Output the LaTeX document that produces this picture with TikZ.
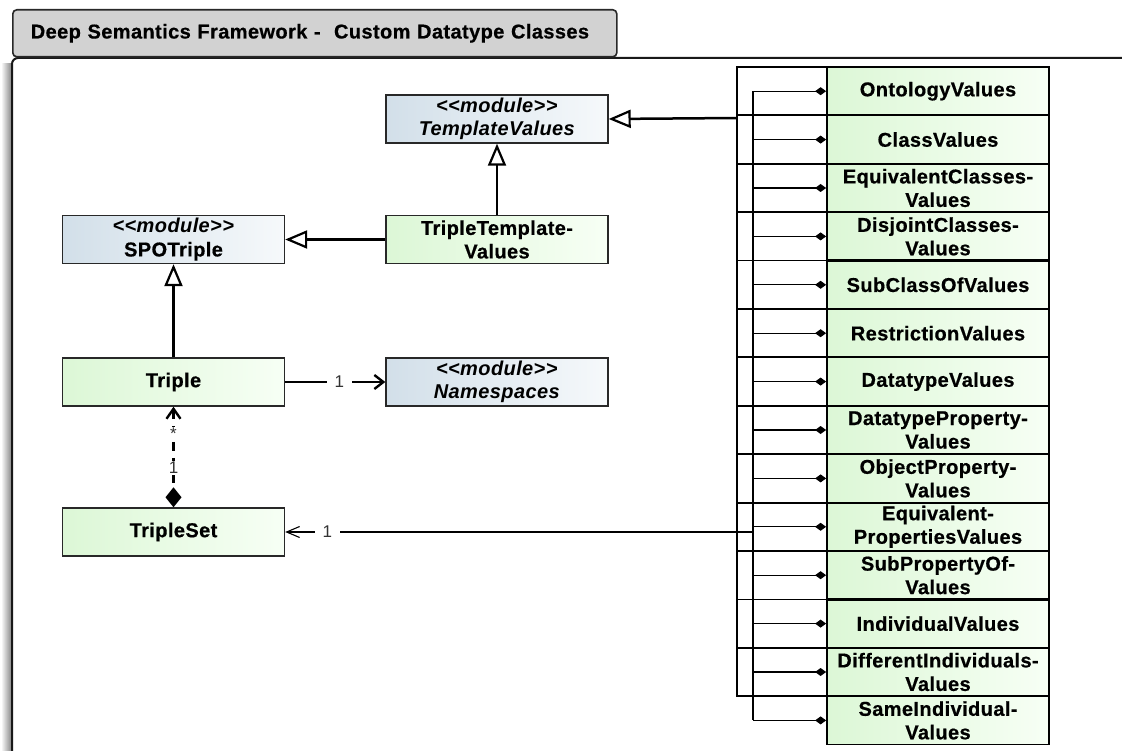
\documentclass[tikz,border=0pt]{standalone}
\usepackage{fontspec}
\setmainfont{Liberation Sans}
\newfontfamily\umlfont[LetterSpace=2, BoldFeatures={FakeBold=0.6}]{Liberation Sans}
\newfontfamily\multfont{Liberation Sans}
\usetikzlibrary{arrows.meta}

\definecolor{modL}{RGB}{210,223,233}
\definecolor{modR}{RGB}{246,249,251}
\definecolor{grnL}{RGB}{220,247,214}
\definecolor{grnR}{RGB}{247,255,245}
\definecolor{tabgray}{RGB}{210,210,210}
\definecolor{edge}{RGB}{40,40,40}

\tikzset{
  umlbox/.style={draw=edge, line width=1.4pt, minimum width=222pt, minimum height=48pt,
    inner sep=0pt, align=center, font=\umlfont\bfseries\fontsize{20}{23.5}\selectfont},
  modulebox/.style={umlbox, left color=modL, right color=modR},
  classbox/.style={umlbox, left color=grnL, right color=grnR},
  rowbox/.style={classbox, line width=1.8pt, draw=black},
  gen/.style={line width=2.5pt, -{Triangle[open, length=22pt, width=18pt, line width=2.2pt, fill=white]}},
  assoc/.style={line width=2.5pt, -{Straight Barb[length=9pt, width=14pt, line width=2.4pt]}},
  thinassoc/.style={line width=1.2pt, -{Straight Barb[length=13pt, width=11pt, line width=1.1pt]}},
  comp/.style={line width=1.2pt, -{Diamond[length=11pt, width=8pt]}},
  mult/.style={font=\multfont\fontsize{17}{19}\selectfont, text=black!80, fill=white, inner xsep=8pt, inner ysep=1pt},
  grpcell/.style={line width=1.8pt, draw=black},
}

\begin{document}
\begin{tikzpicture}[x=1pt, y=-1pt]
\useasboundingbox (0,0) rectangle (1122,751);

% drop shadow along the left edge of the frame
\shade[left color=white, right color=black!45] (1,64) rectangle (11,751);

% diagram frame and title tab
\draw[line width=2pt, draw=black!90, rounded corners=6pt] (12,752) -- (12,58) -- (1123,58);
\node[draw=edge, line width=1.6pt, fill=tabgray, rounded corners=4pt, anchor=north west,
      minimum width=604pt, minimum height=47pt, text width=568pt, inner xsep=18pt, align=left,
      font=\umlfont\bfseries\fontsize{20}{23.5}\selectfont] (title) at (12,9)
  {Deep Semantics Framework -\ \ Custom Datatype Classes};

% module and class boxes
\node[modulebox] (tv)  at (497,119)   {\textit{\textless\textless module\textgreater\textgreater}\\\textit{TemplateValues}};
\node[modulebox] (spo) at (173.5,239.5) {\textit{\textless\textless module\textgreater\textgreater}\\SPOTriple};
\node[classbox]  (ttv) at (497,239.5) {TripleTemplate-\\Values};
\node[classbox]  (tri) at (173.5,382) {Triple};
\node[modulebox] (ns)  at (497,382)   {\textit{\textless\textless module\textgreater\textgreater}\\\textit{Namespaces}};
\node[classbox]  (ts)  at (173.5,532) {TripleSet};

% column of value classes
\foreach \i/\txt in {
  1/OntologyValues,
  2/ClassValues,
  3/{EquivalentClasses-\\Values},
  4/{DisjointClasses-\\Values},
  5/SubClassOfValues,
  6/RestrictionValues,
  7/DatatypeValues,
  8/{DatatypeProperty-\\Values},
  9/{ObjectProperty-\\Values},
  10/{Equivalent-\\PropertiesValues},
  11/{SubPropertyOf-\\Values},
  12/IndividualValues,
  13/{DifferentIndividuals-\\Values},
  14/{SameIndividual-\\Values}} {
  \node[rowbox] (r\i) at (938,{67+48.4*(\i-0.5)}) {\txt};
}
% grouping cells to the left of the value classes
\foreach \i in {1,...,13} {
  \draw[grpcell] (737,{67+48.4*(\i-1)}) rectangle (827,{67+48.4*\i});
}

% composition trunk feeding every value class
\coordinate (trunk) at (753,91.2);
\draw[line width=1.2pt] (trunk) -- (trunk |- r14.west);
\foreach \i in {1,...,14} {
  \draw[comp] (r\i.west -| trunk) -- (r\i.west);
}

% group connectors
\coordinate (grpA) at (737,118);
\coordinate (grpB) at (753,532);
\draw[gen] (grpA) -- (tv.east);
\draw[thinassoc] (grpB) -- node[mult, pos=0.91] {1} (ts.east);

% generalisations
\draw[gen] (ttv.north) -- (tv.south);
\draw[gen] (ttv.west) -- (spo.east);
\draw[gen] (tri.north) -- (spo.south);

% associations
\draw[assoc] (tri.east) -- node[mult, pos=0.54] {1} (ns.west);
\draw[line width=2.5pt, dash pattern=on 9pt off 7pt,
      {Straight Barb[length=10pt, width=14pt, line width=2.4pt]}-{Diamond[length=20pt, width=16pt]}]
  (tri.south) -- node[mult, pos=0.27, inner xsep=3pt] {*} node[mult, pos=0.61, inner xsep=3pt] {1} (ts.north);

\end{tikzpicture}
\end{document}
